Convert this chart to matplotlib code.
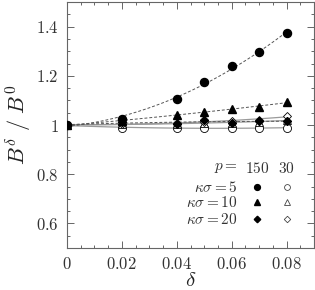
import numpy as np
import matplotlib
matplotlib.use("Agg")
import matplotlib.pyplot as plt
from matplotlib.ticker import MultipleLocator

plt.rcParams['mathtext.fontset'] = 'cm'
plt.rcParams['font.family'] = ['DejaVu Serif']

delta = [0.0, 0.02, 0.04, 0.05, 0.06, 0.07, 0.08]

# p = 150 (filled markers)
k5_p150 = [1.0, 1.026, 1.105, 1.174, 1.240, 1.295, 1.373]
k10_p150 = [1.0, 1.015, 1.042, 1.054, 1.067, 1.073, 1.092]
k20_p150 = [1.0, 1.012, 1.005, 1.020, 1.009, 1.016, 1.016]

# p = 30 (open markers)
k5_p30 = [1.0, 0.986, 0.988, 0.989, 0.987, 0.989, 0.987]
k10_p30 = [1.0, 1.003, 1.006, 1.008, 1.010, 1.012, 1.020]
k20_p30 = [1.0, 1.005, 1.010, 1.013, 1.016, 1.021, 1.037]

xticks = [0, 0.02, 0.04, 0.06, 0.08]
xticklabels = ["0", "0.02", "0.04", "0.06", "0.08"]
yticks = [0.6, 0.8, 1.0, 1.2, 1.4]
yticklabels = ["0.6", "0.8", "1", "1.2", "1.4"]

legend_rows = [r"$\kappa\sigma = 5$", r"$\kappa\sigma = 10$", r"$\kappa\sigma = 20$"]

fig = plt.figure(figsize=(3.15, 2.90), dpi=100)
ax = fig.add_axes([67/315, 42/290, 247/315, 246/290])

x = np.array(delta)
xf = np.linspace(0, 0.08, 100)

def fitline(y, **kw):
    c = np.polyfit(x, np.array(y), 2)
    ax.plot(xf, np.polyval(c, xf), **kw)

# open series lines
for ys in (k5_p30, k10_p30, k20_p30):
    fitline(ys, color='#9a9a9a', lw=0.9, ls='-', zorder=2)
# filled series fits
for ys in (k20_p150, k10_p150, k5_p150):
    fitline(ys, color='#555555', lw=0.7, ls=(0, (3, 2)), zorder=2)

ms = 5.8
ax.plot(x, k5_p30, 'o', ms=ms, mfc='white', mec='black', mew=0.6, ls='none', zorder=3)
ax.plot(x, k10_p30, '^', ms=ms*0.9, mfc='white', mec='black', mew=0.6, ls='none', zorder=3)
ax.plot(x, k20_p30, 'D', ms=ms*0.75, mfc='white', mec='black', mew=0.6, ls='none', zorder=3)
ax.plot(x, k20_p150, 'D', ms=ms*0.75, mfc='black', mec='black', ls='none', zorder=4)
ax.plot(x, k10_p150, '^', ms=ms*0.9, mfc='black', mec='black', ls='none', zorder=4)
ax.plot(x, k5_p150, 'o', ms=ms, mfc='black', mec='black', ls='none', zorder=5)

ax.set_xlim(0, 0.09)
ax.set_ylim(0.5, 1.5)
ax.set_xticks(xticks)
ax.set_xticklabels(["$%s$" % t for t in xticklabels])
ax.set_yticks(yticks)
ax.set_yticklabels(["$%s$" % t for t in yticklabels])
ax.xaxis.set_minor_locator(MultipleLocator(0.005))
ax.yaxis.set_minor_locator(MultipleLocator(0.05))
ax.tick_params(which='both', direction='in', top=True, right=True, color='#666666', width=0.7)
ax.tick_params(which='major', length=5, labelsize=12, labelcolor='#333333', pad=6)
ax.tick_params(which='minor', length=2.5)
for s in ax.spines.values():
    s.set_color('#666666')
    s.set_linewidth(0.8)

ax.set_xlabel(r"$\delta$", fontsize=15, color='#222222', labelpad=-2)
ax.set_ylabel(r"$B^\delta\ /\ B^0$", fontsize=16, color='#222222', labelpad=2)

# legend key
tc = '#333333'
fs = 11
ax.text(0.69, 0.325, r"$p =$", transform=ax.transAxes, ha='right', va='center', fontsize=fs, color=tc)
ax.text(0.768, 0.325, r"$150$", transform=ax.transAxes, ha='center', va='center', fontsize=fs, color=tc)
ax.text(0.889, 0.325, r"$30$", transform=ax.transAxes, ha='center', va='center', fontsize=fs, color=tc)
rows_y = [0.246, 0.185, 0.116]
mk = ['o', '^', 'D']
msz = [4.2, 4.0, 3.3]
for lab, yy, m, s in zip(legend_rows, rows_y, mk, msz):
    ax.text(0.69, yy, lab, transform=ax.transAxes, ha='right', va='center', fontsize=fs, color=tc)
    ax.plot([0.768], [yy], m, ms=s, mfc='black', mec='black', transform=ax.transAxes, clip_on=False)
    ax.plot([0.889], [yy], m, ms=s, mfc='white', mec='#444444', mew=0.6, transform=ax.transAxes, clip_on=False)

fig.savefig("out.png", dpi=100)
